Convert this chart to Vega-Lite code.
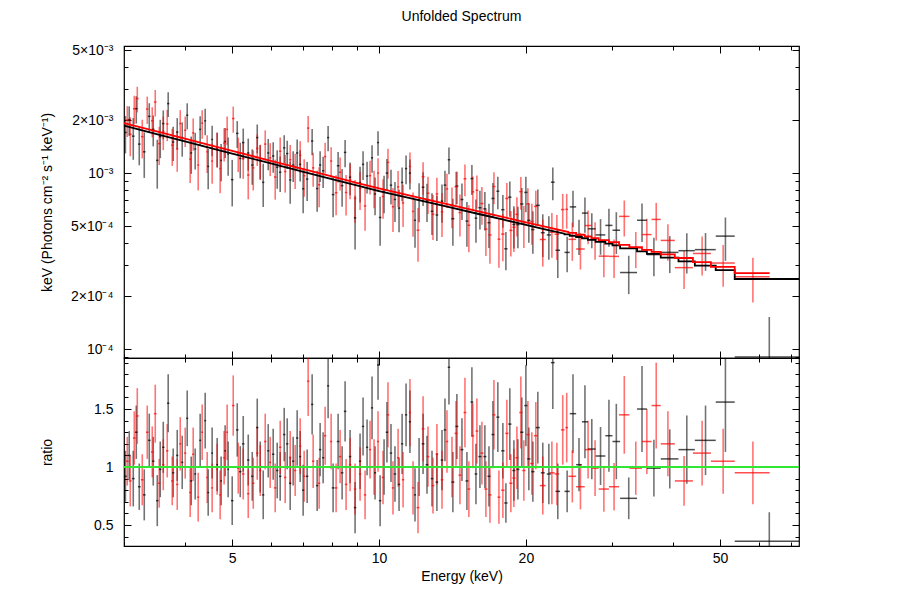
{
"$schema": "https://vega.github.io/schema/vega-lite/v6.json",
"background": "white",
"padding": {"left": 39, "top": 10, "right": 104, "bottom": 14},
"config": {"font": "Liberation Sans", "view": {"stroke": "black", "strokeWidth": 1.2}, "axis": {"domain": false, "grid": false, "minExtent": 0, "tickColor": "black", "tickWidth": 1, "labelColor": "black", "titleColor": "black", "labelFontSize": 14, "titleFontSize": 14, "titleFontWeight": "normal", "labelFont": "Liberation Sans", "titleFont": "Liberation Sans"}},
"title": {"text": "Unfolded Spectrum", "fontSize": 14, "fontWeight": "normal", "font": "Liberation Sans", "offset": 18, "anchor": "middle", "frame": "group", "color": "black"},
"datasets": {
"pts": [
{"s":"A","e":3.02,"w":0.02,"y":1.70e-3,"ye":4.07e-4,"r":0.92,"re":0.22},
{"s":"A","e":3.075,"w":0.02,"y":2.01e-3,"ye":3.83e-4,"r":1.10,"re":0.21},
{"s":"A","e":3.134,"w":0.02,"y":1.62e-3,"ye":4.32e-4,"r":0.90,"re":0.24},
{"s":"A","e":3.179,"w":0.02,"y":2.32e-3,"ye":4.10e-4,"r":1.30,"re":0.23},
{"s":"A","e":3.224,"w":0.02,"y":1.46e-3,"ye":3.53e-4,"r":0.83,"re":0.20},
{"s":"A","e":3.301,"w":0.02,"y":1.32e-3,"ye":3.82e-4,"r":0.76,"re":0.22},
{"s":"A","e":3.380,"w":0.02,"y":2.10e-3,"ye":3.92e-4,"r":1.23,"re":0.23},
{"s":"A","e":3.444,"w":0.02,"y":1.77e-3,"ye":3.53e-4,"r":1.05,"re":0.21},
{"s":"A","e":3.510,"w":0.02,"y":1.18e-3,"ye":3.65e-4,"r":0.71,"re":0.22},
{"s":"A","e":3.560,"w":0.02,"y":1.61e-3,"ye":3.95e-4,"r":0.98,"re":0.24},
{"s":"A","e":3.611,"w":0.02,"y":1.91e-3,"ye":3.58e-4,"r":1.17,"re":0.22},
{"s":"A","e":3.696,"w":0.02,"y":2.48e-3,"ye":4.00e-4,"r":1.55,"re":0.25},
{"s":"A","e":3.784,"w":0.02,"y":1.50e-3,"ye":3.31e-4,"r":0.95,"re":0.21},
{"s":"A","e":3.857,"w":0.02,"y":1.71e-3,"ye":3.42e-4,"r":1.10,"re":0.22},
{"s":"A","e":3.949,"w":0.02,"y":1.59e-3,"ye":3.51e-4,"r":1.04,"re":0.23},
{"s":"A","e":4.043,"w":0.02,"y":2.13e-3,"ye":3.60e-4,"r":1.42,"re":0.24},
{"s":"A","e":4.120,"w":0.02,"y":1.30e-3,"ye":3.11e-4,"r":0.88,"re":0.21},
{"s":"A","e":4.198,"w":0.02,"y":1.37e-3,"ye":3.22e-4,"r":0.94,"re":0.22},
{"s":"A","e":4.298,"w":0.02,"y":1.77e-3,"ye":3.31e-4,"r":1.23,"re":0.23},
{"s":"A","e":4.401,"w":0.02,"y":1.98e-3,"ye":3.39e-4,"r":1.40,"re":0.24},
{"s":"A","e":4.464,"w":0.02,"y":1.09e-3,"ye":2.80e-4,"r":0.78,"re":0.20},
{"s":"A","e":4.548,"w":0.02,"y":1.55e-3,"ye":3.04e-4,"r":1.12,"re":0.22},
{"s":"A","e":4.657,"w":0.02,"y":1.39e-3,"ye":3.12e-4,"r":1.02,"re":0.23},
{"s":"A","e":4.745,"w":0.02,"y":1.18e-3,"ye":2.81e-4,"r":0.88,"re":0.21},
{"s":"A","e":4.836,"w":0.02,"y":1.51e-3,"ye":2.91e-4,"r":1.14,"re":0.22},
{"s":"A","e":4.905,"w":0.02,"y":1.28e-3,"ye":3.14e-4,"r":0.98,"re":0.24},
{"s":"A","e":5.000,"w":0.03,"y":9.17e-4,"ye":2.71e-4,"r":0.71,"re":0.21},
{"s":"A","e":5.120,"w":0.03,"y":1.68e-3,"ye":2.92e-4,"r":1.32,"re":0.23},
{"s":"A","e":5.193,"w":0.03,"y":1.21e-3,"ye":2.77e-4,"r":0.96,"re":0.22},
{"s":"A","e":5.267,"w":0.03,"y":1.49e-3,"ye":2.99e-4,"r":1.20,"re":0.24},
{"s":"A","e":5.393,"w":0.03,"y":1.30e-3,"ye":2.69e-4,"r":1.06,"re":0.22},
{"s":"A","e":5.496,"w":0.03,"y":1.11e-3,"ye":2.53e-4,"r":0.92,"re":0.21},
{"s":"A","e":5.627,"w":0.03,"y":1.59e-3,"ye":2.97e-4,"r":1.34,"re":0.25},
{"s":"A","e":5.707,"w":0.03,"y":1.18e-3,"ye":2.59e-4,"r":1.00,"re":0.22},
{"s":"A","e":5.788,"w":0.03,"y":8.85e-4,"ye":2.44e-4,"r":0.76,"re":0.21},
{"s":"A","e":5.926,"w":0.03,"y":1.30e-3,"ye":2.63e-4,"r":1.14,"re":0.23},
{"s":"A","e":6.067,"w":0.035,"y":1.25e-3,"ye":2.48e-4,"r":1.11,"re":0.22},
{"s":"A","e":6.183,"w":0.035,"y":1.08e-3,"ye":2.66e-4,"r":0.97,"re":0.24},
{"s":"A","e":6.271,"w":0.035,"y":1.01e-3,"ye":2.31e-4,"r":0.92,"re":0.21},
{"s":"A","e":6.391,"w":0.035,"y":1.39e-3,"ye":2.50e-4,"r":1.28,"re":0.23},
{"s":"A","e":6.482,"w":0.035,"y":1.29e-3,"ye":2.36e-4,"r":1.20,"re":0.22},
{"s":"A","e":6.574,"w":0.035,"y":9.14e-4,"ye":2.44e-4,"r":0.86,"re":0.23},
{"s":"A","e":6.667,"w":0.035,"y":1.11e-3,"ye":2.21e-4,"r":1.05,"re":0.21},
{"s":"A","e":6.794,"w":0.035,"y":1.30e-3,"ye":2.49e-4,"r":1.25,"re":0.24},
{"s":"A","e":6.891,"w":0.035,"y":1.12e-3,"ye":2.26e-4,"r":1.09,"re":0.22},
{"s":"A","e":6.989,"w":0.035,"y":8.14e-4,"ye":2.24e-4,"r":0.80,"re":0.22},
{"s":"A","e":7.122,"w":0.04,"y":9.24e-4,"ye":2.31e-4,"r":0.92,"re":0.23},
{"s":"A","e":7.292,"w":0.04,"y":1.52e-3,"ye":2.57e-4,"r":1.54,"re":0.26},
{"s":"A","e":7.466,"w":0.04,"y":8.16e-4,"ye":2.14e-4,"r":0.84,"re":0.22},
{"s":"A","e":7.572,"w":0.04,"y":1.11e-3,"ye":2.21e-4,"r":1.15,"re":0.23},
{"s":"A","e":7.680,"w":0.04,"y":1.03e-3,"ye":2.09e-4,"r":1.08,"re":0.22},
{"s":"A","e":7.863,"w":0.04,"y":1.59e-3,"ye":2.62e-4,"r":1.70,"re":0.28},
{"s":"A","e":8.050,"w":0.05,"y":7.54e-4,"ye":1.93e-4,"r":0.82,"re":0.21},
{"s":"A","e":8.243,"w":0.05,"y":1.10e-3,"ye":2.17e-4,"r":1.22,"re":0.24},
{"s":"A","e":8.400,"w":0.05,"y":8.48e-4,"ye":2.05e-4,"r":0.95,"re":0.23},
{"s":"A","e":8.519,"w":0.05,"y":1.31e-3,"ye":2.30e-4,"r":1.48,"re":0.26},
{"s":"A","e":8.722,"w":0.05,"y":9.47e-4,"ye":2.00e-4,"r":1.09,"re":0.23},
{"s":"A","e":8.930,"w":0.05,"y":5.56e-4,"ye":1.88e-4,"r":0.65,"re":0.22},
{"s":"A","e":9.143,"w":0.05,"y":8.82e-4,"ye":2.02e-4,"r":1.05,"re":0.24},
{"s":"A","e":9.273,"w":0.05,"y":1.12e-3,"ye":2.08e-4,"r":1.35,"re":0.25},
{"s":"A","e":9.450,"w":0.05,"y":9.61e-4,"ye":1.97e-4,"r":1.17,"re":0.24},
{"s":"A","e":9.675,"w":0.05,"y":1.22e-3,"ye":2.18e-4,"r":1.51,"re":0.27},
{"s":"A","e":9.813,"w":0.05,"y":7.60e-4,"ye":1.84e-4,"r":0.95,"re":0.23},
{"s":"A","e":9.952,"w":0.05,"y":1.49e-3,"ye":2.38e-4,"r":1.88,"re":0.30},
{"s":"A","e":10.05,"w":0.06,"y":5.59e-4,"ye":1.73e-4,"r":0.71,"re":0.22},
{"s":"A","e":10.24,"w":0.06,"y":7.78e-4,"ye":1.87e-4,"r":1.00,"re":0.24},
{"s":"A","e":10.38,"w":0.06,"y":1.00e-3,"ye":2.00e-4,"r":1.30,"re":0.26},
{"s":"A","e":10.58,"w":0.06,"y":8.53e-4,"ye":1.91e-4,"r":1.12,"re":0.25},
{"s":"A","e":10.78,"w":0.06,"y":7.08e-4,"ye":1.81e-4,"r":0.94,"re":0.24},
{"s":"A","e":10.99,"w":0.06,"y":6.32e-4,"ye":1.71e-4,"r":0.85,"re":0.23},
{"s":"A","e":11.15,"w":0.06,"y":8.84e-4,"ye":1.92e-4,"r":1.20,"re":0.26},
{"s":"A","e":11.36,"w":0.06,"y":1.06e-3,"ye":1.97e-4,"r":1.45,"re":0.27},
{"s":"A","e":11.57,"w":0.06,"y":9.99e-4,"ye":1.94e-4,"r":1.39,"re":0.27},
{"s":"A","e":11.85,"w":0.06,"y":5.39e-4,"ye":1.63e-4,"r":0.76,"re":0.23},
{"s":"A","e":12.08,"w":0.08,"y":7.00e-4,"ye":1.75e-4,"r":1.00,"re":0.25},
{"s":"A","e":12.31,"w":0.08,"y":8.30e-4,"ye":1.80e-4,"r":1.20,"re":0.26},
{"s":"A","e":12.54,"w":0.08,"y":6.98e-4,"ye":1.71e-4,"r":1.02,"re":0.25},
{"s":"A","e":12.84,"w":0.08,"y":6.06e-4,"ye":1.62e-4,"r":0.90,"re":0.24},
{"s":"A","e":13.14,"w":0.08,"y":5.77e-4,"ye":1.66e-4,"r":0.87,"re":0.25},
{"s":"A","e":13.46,"w":0.08,"y":6.92e-4,"ye":1.70e-4,"r":1.06,"re":0.26},
{"s":"A","e":13.65,"w":0.08,"y":8.54e-4,"ye":1.75e-4,"r":1.32,"re":0.27},
{"s":"A","e":13.91,"w":0.08,"y":1.19e-3,"ye":2.05e-4,"r":1.86,"re":0.32},
{"s":"A","e":14.17,"w":0.1,"y":5.50e-4,"ye":1.64e-4,"r":0.87,"re":0.26},
{"s":"A","e":14.44,"w":0.1,"y":8.42e-4,"ye":1.75e-4,"r":1.35,"re":0.28},
{"s":"A","e":14.79,"w":0.1,"y":7.07e-4,"ye":1.66e-4,"r":1.15,"re":0.27},
{"s":"A","e":15.14,"w":0.1,"y":5.33e-4,"ye":1.52e-4,"r":0.88,"re":0.25},
{"s":"A","e":15.50,"w":0.1,"y":9.30e-4,"ye":1.79e-4,"r":1.56,"re":0.30},
{"s":"A","e":15.80,"w":0.1,"y":5.54e-4,"ye":1.53e-4,"r":0.94,"re":0.26},
{"s":"A","e":16.10,"w":0.12,"y":6.35e-4,"ye":1.57e-4,"r":1.09,"re":0.27},
{"s":"A","e":16.48,"w":0.12,"y":6.26e-4,"ye":1.55e-4,"r":1.09,"re":0.27},
{"s":"A","e":16.80,"w":0.12,"y":5.22e-4,"ye":1.47e-4,"r":0.92,"re":0.26},
{"s":"A","e":17.12,"w":0.12,"y":7.17e-4,"ye":1.62e-4,"r":1.28,"re":0.29},
{"s":"A","e":17.52,"w":0.12,"y":7.88e-4,"ye":1.65e-4,"r":1.43,"re":0.30},
{"s":"A","e":17.94,"w":0.14,"y":6.19e-4,"ye":1.30e-4,"r":1.14,"re":0.24},
{"s":"A","e":18.20,"w":0.14,"y":3.71e-4,"ye":9.1e-5,"r":0.69,"re":0.17},
{"s":"A","e":18.54,"w":0.14,"y":7.29e-4,"ye":1.65e-4,"r":1.37,"re":0.31},
{"s":"A","e":18.90,"w":0.14,"y":5.10e-4,"ye":1.37e-4,"r":0.97,"re":0.26},
{"s":"A","e":19.26,"w":0.14,"y":5.09e-4,"ye":1.35e-4,"r":0.98,"re":0.26},
{"s":"A","e":19.62,"w":0.15,"y":6.67e-4,"ye":1.54e-4,"r":1.30,"re":0.30},
{"s":"A","e":20.00,"w":0.15,"y":7.76e-4,"ye":1.77e-4,"r":1.53,"re":0.35},
{"s":"A","e":20.28,"w":0.15,"y":5.38e-4,"ye":1.36e-4,"r":1.07,"re":0.27},
{"s":"A","e":20.67,"w":0.16,"y":4.77e-4,"ye":1.29e-4,"r":0.96,"re":0.26},
{"s":"A","e":21.16,"w":0.2,"y":6.55e-4,"ye":1.52e-4,"r":1.34,"re":0.31},
{"s":"A","e":21.66,"w":0.2,"y":4.58e-4,"ye":1.25e-4,"r":0.95,"re":0.26},
{"s":"A","e":22.29,"w":0.22,"y":4.45e-4,"ye":1.23e-4,"r":0.94,"re":0.26},
{"s":"A","e":22.71,"w":0.2,"y":8.87e-4,"ye":1.87e-4,"r":1.90,"re":0.40},
{"s":"A","e":23.25,"w":0.25,"y":3.64e-4,"ye":1.11e-4,"r":0.79,"re":0.24},
{"s":"A","e":24.3,"w":0.3,"y":3.54e-4,"ye":8.1e-5,"r":0.79,"re":0.18},
{"s":"A","e":24.98,"w":0.375,"y":6.42e-4,"ye":1.50e-4,"r":1.46,"re":0.34},
{"s":"A","e":25.7,"w":0.35,"y":4.42e-4,"ye":1.00e-4,"r":1.02,"re":0.23},
{"s":"A","e":26.43,"w":0.375,"y":5.92e-4,"ye":1.34e-4,"r":1.39,"re":0.315},
{"s":"A","e":27.3,"w":0.5,"y":4.82e-4,"ye":1.08e-4,"r":1.155,"re":0.26},
{"s":"A","e":28.45,"w":0.65,"y":4.45e-4,"ye":1.02e-4,"r":1.095,"re":0.25},
{"s":"A","e":29.6,"w":0.5,"y":5.04e-4,"ye":1.23e-4,"r":1.27,"re":0.31},
{"s":"A","e":30.65,"w":0.55,"y":4.73e-4,"ye":1.26e-4,"r":1.22,"re":0.325},
{"s":"A","e":32.5,"w":1.3,"y":2.72e-4,"ye":6.7e-5,"r":0.73,"re":0.18},
{"s":"A","e":34.6,"w":0.8,"y":5.39e-4,"ye":1.33e-4,"r":1.50,"re":0.37},
{"s":"A","e":36.6,"w":1.2,"y":3.44e-4,"ye":8.5e-5,"r":0.99,"re":0.245},
{"s":"A","e":39.45,"w":1.65,"y":3.54e-4,"ye":8.4e-5,"r":1.07,"re":0.255},
{"s":"A","e":42.75,"w":1.65,"y":3.62e-4,"ye":9.3e-5,"r":1.15,"re":0.295},
{"s":"A","e":46.7,"w":2.3,"y":3.67e-4,"ye":8.9e-5,"r":1.23,"re":0.30},
{"s":"A","e":51.3,"w":2.3,"y":4.38e-4,"ye":1.21e-4,"r":1.56,"re":0.43},
{"s":"A","e":63.1,"w":9.5,"y":9.0e-5,"ye":6.2e-5,"r":0.36,"re":0.25},
{"s":"B","e":3.047,"w":0.02,"y":2.00e-3,"ye":3.99e-4,"r":1.05,"re":0.21},
{"s":"B","e":3.090,"w":0.02,"y":1.66e-3,"ye":4.14e-4,"r":0.88,"re":0.22},
{"s":"B","e":3.149,"w":0.02,"y":2.32e-3,"ye":4.27e-4,"r":1.25,"re":0.23},
{"s":"B","e":3.194,"w":0.02,"y":2.65e-3,"ye":4.41e-4,"r":1.44,"re":0.24},
{"s":"B","e":3.270,"w":0.02,"y":1.61e-3,"ye":3.98e-4,"r":0.89,"re":0.22},
{"s":"B","e":3.348,"w":0.02,"y":2.31e-3,"ye":4.09e-4,"r":1.30,"re":0.23},
{"s":"B","e":3.428,"w":0.02,"y":1.98e-3,"ye":3.85e-4,"r":1.13,"re":0.22},
{"s":"B","e":3.477,"w":0.02,"y":2.53e-3,"ye":4.33e-4,"r":1.46,"re":0.25},
{"s":"B","e":3.543,"w":0.02,"y":1.47e-3,"ye":3.59e-4,"r":0.86,"re":0.21},
{"s":"B","e":3.611,"w":0.02,"y":1.72e-3,"ye":3.71e-4,"r":1.02,"re":0.22},
{"s":"B","e":3.679,"w":0.02,"y":1.90e-3,"ye":3.82e-4,"r":1.14,"re":0.23},
{"s":"B","e":3.767,"w":0.02,"y":1.44e-3,"ye":3.43e-4,"r":0.88,"re":0.21},
{"s":"B","e":3.857,"w":0.02,"y":1.37e-3,"ye":3.54e-4,"r":0.85,"re":0.22},
{"s":"B","e":3.912,"w":0.02,"y":1.91e-3,"ye":3.66e-4,"r":1.20,"re":0.23},
{"s":"B","e":4.005,"w":0.02,"y":1.75e-3,"ye":3.44e-4,"r":1.12,"re":0.22},
{"s":"B","e":4.100,"w":0.02,"y":1.20e-3,"ye":3.23e-4,"r":0.78,"re":0.21},
{"s":"B","e":4.159,"w":0.02,"y":1.69e-3,"ye":3.51e-4,"r":1.11,"re":0.23},
{"s":"B","e":4.258,"w":0.02,"y":1.11e-3,"ye":3.15e-4,"r":0.74,"re":0.21},
{"s":"B","e":4.339,"w":0.02,"y":1.92e-3,"ye":3.54e-4,"r":1.30,"re":0.24},
{"s":"B","e":4.443,"w":0.02,"y":1.32e-3,"ye":3.20e-4,"r":0.91,"re":0.22},
{"s":"B","e":4.548,"w":0.02,"y":1.17e-3,"ye":3.00e-4,"r":0.82,"re":0.21},
{"s":"B","e":4.657,"w":0.02,"y":1.38e-3,"ye":3.09e-4,"r":0.98,"re":0.22},
{"s":"B","e":4.723,"w":0.02,"y":1.06e-3,"ye":2.92e-4,"r":0.76,"re":0.21},
{"s":"B","e":4.813,"w":0.02,"y":1.48e-3,"ye":3.16e-4,"r":1.08,"re":0.23},
{"s":"B","e":4.882,"w":0.02,"y":1.77e-3,"ye":3.26e-4,"r":1.30,"re":0.24},
{"s":"B","e":5.024,"w":0.03,"y":2.04e-3,"ye":3.46e-4,"r":1.53,"re":0.26},
{"s":"B","e":5.144,"w":0.03,"y":1.30e-3,"ye":2.88e-4,"r":0.99,"re":0.22},
{"s":"B","e":5.267,"w":0.03,"y":1.21e-3,"ye":2.83e-4,"r":0.94,"re":0.22},
{"s":"B","e":5.393,"w":0.03,"y":9.75e-4,"ye":2.66e-4,"r":0.77,"re":0.21},
{"s":"B","e":5.522,"w":0.03,"y":1.07e-3,"ye":2.74e-4,"r":0.86,"re":0.22},
{"s":"B","e":5.627,"w":0.03,"y":1.38e-3,"ye":2.83e-4,"r":1.12,"re":0.23},
{"s":"B","e":5.707,"w":0.03,"y":1.18e-3,"ye":2.68e-4,"r":0.97,"re":0.22},
{"s":"B","e":5.843,"w":0.03,"y":1.46e-3,"ye":2.87e-4,"r":1.22,"re":0.24},
{"s":"B","e":5.982,"w":0.03,"y":1.22e-3,"ye":2.59e-4,"r":1.04,"re":0.22},
{"s":"B","e":6.125,"w":0.035,"y":9.49e-4,"ye":2.43e-4,"r":0.82,"re":0.21},
{"s":"B","e":6.271,"w":0.035,"y":1.33e-3,"ye":2.62e-4,"r":1.17,"re":0.23},
{"s":"B","e":6.421,"w":0.035,"y":1.02e-3,"ye":2.46e-4,"r":0.91,"re":0.22},
{"s":"B","e":6.574,"w":0.035,"y":1.19e-3,"ye":2.53e-4,"r":1.08,"re":0.23},
{"s":"B","e":6.730,"w":0.035,"y":1.05e-3,"ye":2.38e-4,"r":0.97,"re":0.22},
{"s":"B","e":6.891,"w":0.035,"y":1.26e-3,"ye":2.55e-4,"r":1.18,"re":0.24},
{"s":"B","e":7.022,"w":0.04,"y":9.65e-4,"ye":2.31e-4,"r":0.92,"re":0.22},
{"s":"B","e":7.156,"w":0.04,"y":1.80e-3,"ye":3.11e-4,"r":1.74,"re":0.30},
{"s":"B","e":7.327,"w":0.04,"y":1.07e-3,"ye":2.34e-4,"r":1.05,"re":0.23},
{"s":"B","e":7.537,"w":0.04,"y":8.58e-4,"ye":2.20e-4,"r":0.86,"re":0.22},
{"s":"B","e":7.753,"w":0.04,"y":1.24e-3,"ye":2.45e-4,"r":1.27,"re":0.25},
{"s":"B","e":7.976,"w":0.04,"y":1.17e-3,"ye":2.30e-4,"r":1.22,"re":0.24},
{"s":"B","e":8.165,"w":0.05,"y":7.73e-4,"ye":1.98e-4,"r":0.82,"re":0.21},
{"s":"B","e":8.321,"w":0.05,"y":1.01e-3,"ye":2.14e-4,"r":1.09,"re":0.23},
{"s":"B","e":8.559,"w":0.05,"y":7.75e-4,"ye":2.01e-4,"r":0.85,"re":0.22},
{"s":"B","e":8.722,"w":0.05,"y":9.17e-4,"ye":2.07e-4,"r":1.02,"re":0.23},
{"s":"B","e":8.930,"w":0.05,"y":7.17e-4,"ye":1.95e-4,"r":0.81,"re":0.22},
{"s":"B","e":9.143,"w":0.05,"y":8.17e-4,"ye":2.00e-4,"r":0.94,"re":0.23},
{"s":"B","e":9.361,"w":0.05,"y":6.50e-4,"ye":1.80e-4,"r":0.76,"re":0.21},
{"s":"B","e":9.584,"w":0.05,"y":9.66e-4,"ye":2.10e-4,"r":1.15,"re":0.25},
{"s":"B","e":9.767,"w":0.05,"y":8.30e-4,"ye":1.99e-4,"r":1.00,"re":0.24},
{"s":"B","e":9.952,"w":0.05,"y":1.00e-3,"ye":2.13e-4,"r":1.22,"re":0.26},
{"s":"B","e":10.19,"w":0.06,"y":7.35e-4,"ye":1.86e-4,"r":0.91,"re":0.23},
{"s":"B","e":10.43,"w":0.06,"y":1.15e-3,"ye":2.23e-4,"r":1.45,"re":0.28},
{"s":"B","e":10.68,"w":0.06,"y":6.43e-4,"ye":1.80e-4,"r":0.82,"re":0.23},
{"s":"B","e":10.94,"w":0.06,"y":8.34e-4,"ye":1.93e-4,"r":1.08,"re":0.25},
{"s":"B","e":11.20,"w":0.06,"y":6.76e-4,"ye":1.82e-4,"r":0.89,"re":0.24},
{"s":"B","e":11.57,"w":0.06,"y":1.09e-3,"ye":2.16e-4,"r":1.47,"re":0.29},
{"s":"B","e":11.74,"w":0.06,"y":6.05e-4,"ye":1.70e-4,"r":0.82,"re":0.23},
{"s":"B","e":12.02,"w":0.08,"y":4.73e-4,"ye":1.60e-4,"r":0.65,"re":0.22},
{"s":"B","e":12.31,"w":0.08,"y":9.52e-4,"ye":2.00e-4,"r":1.33,"re":0.28},
{"s":"B","e":12.60,"w":0.08,"y":7.68e-4,"ye":1.83e-4,"r":1.09,"re":0.26},
{"s":"B","e":12.90,"w":0.08,"y":5.83e-4,"ye":1.67e-4,"r":0.84,"re":0.24},
{"s":"B","e":13.14,"w":0.08,"y":7.61e-4,"ye":1.78e-4,"r":1.11,"re":0.26},
{"s":"B","e":13.46,"w":0.08,"y":6.02e-4,"ye":1.69e-4,"r":0.89,"re":0.25},
{"s":"B","e":13.78,"w":0.08,"y":8.12e-4,"ye":1.80e-4,"r":1.22,"re":0.27},
{"s":"B","e":14.11,"w":0.1,"y":6.56e-4,"ye":1.71e-4,"r":1.00,"re":0.26},
{"s":"B","e":14.38,"w":0.1,"y":8.36e-4,"ye":1.81e-4,"r":1.29,"re":0.28},
{"s":"B","e":14.65,"w":0.1,"y":5.96e-4,"ye":1.60e-4,"r":0.93,"re":0.25},
{"s":"B","e":15.00,"w":0.1,"y":9.28e-4,"ye":1.89e-4,"r":1.47,"re":0.30},
{"s":"B","e":15.28,"w":0.1,"y":5.05e-4,"ye":1.50e-4,"r":0.81,"re":0.24},
{"s":"B","e":15.57,"w":0.1,"y":7.82e-4,"ye":1.72e-4,"r":1.27,"re":0.28},
{"s":"B","e":15.87,"w":0.1,"y":7.98e-4,"ye":1.71e-4,"r":1.31,"re":0.28},
{"s":"B","e":16.25,"w":0.12,"y":6.71e-4,"ye":1.62e-4,"r":1.12,"re":0.27},
{"s":"B","e":16.56,"w":0.12,"y":4.80e-4,"ye":1.42e-4,"r":0.81,"re":0.24},
{"s":"B","e":16.88,"w":0.12,"y":4.45e-4,"ye":1.40e-4,"r":0.76,"re":0.24},
{"s":"B","e":17.20,"w":0.12,"y":8.38e-4,"ye":1.73e-4,"r":1.45,"re":0.30},
{"s":"B","e":17.61,"w":0.12,"y":4.21e-4,"ye":1.31e-4,"r":0.74,"re":0.23},
{"s":"B","e":17.94,"w":0.14,"y":4.50e-4,"ye":1.35e-4,"r":0.80,"re":0.24},
{"s":"B","e":18.28,"w":0.14,"y":7.17e-4,"ye":1.61e-4,"r":1.29,"re":0.29},
{"s":"B","e":18.63,"w":0.14,"y":4.72e-4,"ye":1.37e-4,"r":0.86,"re":0.25},
{"s":"B","e":18.90,"w":0.14,"y":4.92e-4,"ye":1.36e-4,"r":0.905,"re":0.25},
{"s":"B","e":19.17,"w":0.14,"y":5.82e-4,"ye":1.46e-4,"r":1.08,"re":0.27},
{"s":"B","e":19.53,"w":0.15,"y":7.84e-4,"ye":1.65e-4,"r":1.47,"re":0.31},
{"s":"B","e":19.81,"w":0.15,"y":5.12e-4,"ye":1.37e-4,"r":0.97,"re":0.26},
{"s":"B","e":20.19,"w":0.15,"y":6.68e-4,"ye":1.51e-4,"r":1.28,"re":0.29},
{"s":"B","e":20.57,"w":0.16,"y":5.30e-4,"ye":1.39e-4,"r":1.03,"re":0.27},
{"s":"B","e":20.96,"w":0.18,"y":6.46e-4,"ye":1.48e-4,"r":1.27,"re":0.29},
{"s":"B","e":21.66,"w":0.3,"y":4.19e-4,"ye":1.25e-4,"r":0.84,"re":0.25},
{"s":"B","e":22.61,"w":0.3,"y":4.61e-4,"ye":1.31e-4,"r":0.95,"re":0.27},
{"s":"B","e":23.15,"w":0.25,"y":4.49e-4,"ye":1.29e-4,"r":0.94,"re":0.27},
{"s":"B","e":23.80,"w":0.2,"y":6.20e-4,"ye":1.41e-4,"r":1.32,"re":0.30},
{"s":"B","e":24.25,"w":0.15,"y":6.22e-4,"ye":1.39e-4,"r":1.34,"re":0.30},
{"s":"B","e":24.9,"w":0.45,"y":4.20e-4,"ye":1.03e-4,"r":0.92,"re":0.225},
{"s":"B","e":25.875,"w":0.525,"y":3.70e-4,"ye":8.7e-5,"r":0.83,"re":0.195},
{"s":"B","e":26.825,"w":0.425,"y":5.03e-4,"ye":1.09e-4,"r":1.15,"re":0.25},
{"s":"B","e":27.725,"w":0.475,"y":4.23e-4,"ye":1.02e-4,"r":0.99,"re":0.24},
{"s":"B","e":28.9,"w":0.7,"y":3.37e-4,"ye":8.1e-5,"r":0.81,"re":0.195},
{"s":"B","e":30.325,"w":0.725,"y":3.36e-4,"ye":8.3e-5,"r":0.83,"re":0.205},
{"s":"B","e":31.825,"w":0.775,"y":5.67e-4,"ye":1.31e-4,"r":1.45,"re":0.335},
{"s":"B","e":33.6,"w":1.0,"y":3.75e-4,"ye":8.7e-5,"r":0.99,"re":0.23},
{"s":"B","e":35.4,"w":0.8,"y":4.47e-4,"ye":1.02e-4,"r":1.22,"re":0.28},
{"s":"B","e":37.0,"w":0.8,"y":5.45e-4,"ye":1.32e-4,"r":1.53,"re":0.37},
{"s":"B","e":39.1,"w":1.3,"y":4.14e-4,"ye":9.7e-5,"r":1.20,"re":0.28},
{"s":"B","e":42.2,"w":1.8,"y":2.90e-4,"ye":7.1e-5,"r":0.88,"re":0.215},
{"s":"B","e":45.95,"w":1.95,"y":3.49e-4,"ye":8.7e-5,"r":1.12,"re":0.28},
{"s":"B","e":50.75,"w":2.85,"y":3.08e-4,"ye":8.2e-5,"r":1.05,"re":0.28},
{"s":"B","e":58.4,"w":4.8,"y":2.57e-4,"ye":7.3e-5,"r":0.95,"re":0.27}
],
"mod": [
{"s":"A","e":3.0,"m":1.857e-3},{"s":"A","e":3.5,"m":1.664e-3},{"s":"A","e":4,"m":1.513e-3},{"s":"A","e":4.5,"m":1.391e-3},{"s":"A","e":5,"m":1.291e-3},{"s":"A","e":6,"m":1.134e-3},{"s":"A","e":7,"m":1.016e-3},{"s":"A","e":8,"m":9.24e-4},{"s":"A","e":9,"m":8.50e-4},{"s":"A","e":10,"m":7.90e-4},{"s":"A","e":12,"m":7.03e-4},{"s":"A","e":14,"m":6.37e-4},{"s":"A","e":16,"m":5.85e-4},{"s":"A","e":18,"m":5.43e-4},{"s":"A","e":20,"m":5.07e-4},{"s":"A","e":22,"m":4.775e-4},{"s":"A","e":24,"m":4.52e-4},
{"s":"A","e":24.0,"m":4.48e-4},{"s":"A","e":24.6,"m":4.48e-4},
{"s":"A","e":24.6,"m":4.40e-4},{"s":"A","e":25.35,"m":4.40e-4},
{"s":"A","e":25.35,"m":4.33e-4},{"s":"A","e":26.05,"m":4.33e-4},
{"s":"A","e":26.05,"m":4.26e-4},{"s":"A","e":26.8,"m":4.26e-4},
{"s":"A","e":26.8,"m":4.17e-4},{"s":"A","e":27.8,"m":4.17e-4},
{"s":"A","e":27.8,"m":4.06e-4},{"s":"A","e":29.1,"m":4.06e-4},
{"s":"A","e":29.1,"m":3.97e-4},{"s":"A","e":30.1,"m":3.97e-4},
{"s":"A","e":30.1,"m":3.88e-4},{"s":"A","e":31.2,"m":3.88e-4},
{"s":"A","e":31.2,"m":3.73e-4},{"s":"A","e":33.8,"m":3.73e-4},
{"s":"A","e":33.8,"m":3.59e-4},{"s":"A","e":35.4,"m":3.59e-4},
{"s":"A","e":35.4,"m":3.47e-4},{"s":"A","e":37.8,"m":3.47e-4},
{"s":"A","e":37.8,"m":3.31e-4},{"s":"A","e":41.1,"m":3.31e-4},
{"s":"A","e":41.1,"m":3.15e-4},{"s":"A","e":44.4,"m":3.15e-4},
{"s":"A","e":44.4,"m":2.98e-4},{"s":"A","e":49.0,"m":2.98e-4},
{"s":"A","e":49.0,"m":2.81e-4},{"s":"A","e":53.6,"m":2.81e-4},
{"s":"A","e":53.6,"m":2.50e-4},{"s":"A","e":72.6,"m":2.50e-4},
{"s":"B","e":3.0,"m":1.922e-3},{"s":"B","e":3.5,"m":1.722e-3},{"s":"B","e":4,"m":1.566e-3},{"s":"B","e":4.5,"m":1.440e-3},{"s":"B","e":5,"m":1.336e-3},{"s":"B","e":6,"m":1.174e-3},{"s":"B","e":7,"m":1.052e-3},{"s":"B","e":8,"m":9.56e-4},{"s":"B","e":9,"m":8.80e-4},{"s":"B","e":10,"m":8.18e-4},{"s":"B","e":12,"m":7.28e-4},{"s":"B","e":14,"m":6.59e-4},{"s":"B","e":16,"m":6.05e-4},{"s":"B","e":18,"m":5.62e-4},{"s":"B","e":20,"m":5.25e-4},{"s":"B","e":22,"m":4.94e-4},{"s":"B","e":24.45,"m":4.62e-4},
{"s":"B","e":24.45,"m":4.57e-4},{"s":"B","e":25.35,"m":4.57e-4},
{"s":"B","e":25.35,"m":4.46e-4},{"s":"B","e":26.4,"m":4.46e-4},
{"s":"B","e":26.4,"m":4.37e-4},{"s":"B","e":27.25,"m":4.37e-4},
{"s":"B","e":27.25,"m":4.27e-4},{"s":"B","e":28.2,"m":4.27e-4},
{"s":"B","e":28.2,"m":4.16e-4},{"s":"B","e":29.6,"m":4.16e-4},
{"s":"B","e":29.6,"m":4.05e-4},{"s":"B","e":31.05,"m":4.05e-4},
{"s":"B","e":31.05,"m":3.91e-4},{"s":"B","e":32.6,"m":3.91e-4},
{"s":"B","e":32.6,"m":3.79e-4},{"s":"B","e":34.6,"m":3.79e-4},
{"s":"B","e":34.6,"m":3.66e-4},{"s":"B","e":36.2,"m":3.66e-4},
{"s":"B","e":36.2,"m":3.56e-4},{"s":"B","e":37.8,"m":3.56e-4},
{"s":"B","e":37.8,"m":3.45e-4},{"s":"B","e":40.4,"m":3.45e-4},
{"s":"B","e":40.4,"m":3.29e-4},{"s":"B","e":44.0,"m":3.29e-4},
{"s":"B","e":44.0,"m":3.12e-4},{"s":"B","e":47.9,"m":3.12e-4},
{"s":"B","e":47.9,"m":2.93e-4},{"s":"B","e":53.6,"m":2.93e-4},
{"s":"B","e":53.6,"m":2.70e-4},{"s":"B","e":63.2,"m":2.70e-4}
]
},
"spacing": 0,
"bounds": "flush",
"vconcat": [
{
"width": 675, "height": 312,
"resolve": {"axis": {"x": "independent", "y": "independent"}},
"layer": [
{"data": {"name": "pts"}, "transform": [{"filter": "datum.s === 'A'"}],
 "mark": {"type": "errorbar", "thickness": 1.6, "opacity": 0.55},
 "encoding": {
  "x": {"field": "e", "type": "quantitative", "scale": {"type": "log", "domain": [3, 72.6], "nice": false, "clamp": true}, "axis": {"orient": "bottom", "values": [5, 10, 20, 50], "labels": false, "tickSize": -7, "title": null}},
  "y": {"field": "y", "type": "quantitative", "scale": {"type": "log", "domain": [8.89e-5, 5.27e-3], "nice": false, "clamp": true}, "axis": {"orient": "left", "values": [1e-4, 2e-4, 5e-4, 1e-3, 2e-3, 5e-3], "tickSize": -7, "labelPadding": 18, "labelExpr": "datum.value > 0.004 ? '5×10⁻³' : datum.value > 0.0015 ? '2×10⁻³' : datum.value > 0.0008 ? '10⁻³' : datum.value > 0.0004 ? '5×10⁻⁴' : datum.value > 0.00015 ? '2×10⁻⁴' : '10⁻⁴'", "title": "keV (Photons cm⁻² s⁻¹ keV⁻¹)", "titleX": -70}},
  "yError": {"field": "ye"},
  "color": {"field": "s", "type": "nominal", "scale": {"domain": ["A", "B"], "range": ["#000000", "#ff0000"]}, "legend": null}
 }},
{"data": {"name": "pts"}, "transform": [{"filter": "datum.s === 'B'"}],
 "mark": {"type": "errorbar", "thickness": 1.6, "opacity": 0.55},
 "encoding": {
  "x": {"field": "e", "type": "quantitative", "scale": {"type": "log", "domain": [3, 72.6], "nice": false, "clamp": true}, "axis": {"orient": "bottom", "values": [3, 4, 6, 7, 8, 9, 30, 40, 60, 70], "labels": false, "tickSize": -4, "title": null}},
  "y": {"field": "y", "type": "quantitative", "scale": {"type": "log", "domain": [8.89e-5, 5.27e-3], "nice": false, "clamp": true}, "axis": {"orient": "left", "values": [9e-5, 3e-4, 4e-4, 6e-4, 7e-4, 8e-4, 9e-4, 3e-3, 4e-3], "labels": false, "tickSize": -4, "title": null}},
  "yError": {"field": "ye"},
  "color": {"field": "s", "type": "nominal", "scale": {"domain": ["A", "B"], "range": ["#000000", "#ff0000"]}, "legend": null}
 }},
{"data": {"name": "pts"}, "transform": [{"filter": "datum.s === 'A'"}],
 "mark": {"type": "errorbar", "thickness": 1.5, "opacity": 0.7},
 "encoding": {
  "x": {"field": "e", "type": "quantitative", "scale": {"type": "log", "domain": [3, 72.6], "nice": false, "clamp": true}, "axis": {"orient": "top", "values": [5, 10, 20, 50], "labels": false, "tickSize": -7, "title": null}},
  "xError": {"field": "w"},
  "y": {"field": "y", "type": "quantitative", "scale": {"type": "log", "domain": [8.89e-5, 5.27e-3], "nice": false, "clamp": true}, "axis": {"orient": "right", "values": [1e-4, 2e-4, 5e-4, 1e-3, 2e-3, 5e-3], "labels": false, "tickSize": -7, "title": null}},
  "color": {"field": "s", "type": "nominal", "scale": {"domain": ["A", "B"], "range": ["#000000", "#ff0000"]}, "legend": null}
 }},
{"data": {"name": "pts"}, "transform": [{"filter": "datum.s === 'B'"}],
 "mark": {"type": "errorbar", "thickness": 1.5, "opacity": 0.7},
 "encoding": {
  "x": {"field": "e", "type": "quantitative", "scale": {"type": "log", "domain": [3, 72.6], "nice": false, "clamp": true}, "axis": {"orient": "top", "values": [3, 4, 6, 7, 8, 9, 30, 40, 60, 70], "labels": false, "tickSize": -4, "title": null}},
  "xError": {"field": "w"},
  "y": {"field": "y", "type": "quantitative", "scale": {"type": "log", "domain": [8.89e-5, 5.27e-3], "nice": false, "clamp": true}, "axis": {"orient": "right", "values": [9e-5, 3e-4, 4e-4, 6e-4, 7e-4, 8e-4, 9e-4, 3e-3, 4e-3], "labels": false, "tickSize": -4, "title": null}},
  "color": {"field": "s", "type": "nominal", "scale": {"domain": ["A", "B"], "range": ["#000000", "#ff0000"]}, "legend": null}
 }},
{"data": {"name": "mod"},
 "mark": {"type": "line", "strokeWidth": 1.8},
 "encoding": {
  "x": {"field": "e", "type": "quantitative", "scale": {"type": "log", "domain": [3, 72.6], "nice": false, "clamp": true}, "axis": null},
  "y": {"field": "m", "type": "quantitative", "scale": {"type": "log", "domain": [8.89e-5, 5.27e-3], "nice": false, "clamp": true}, "axis": null},
  "color": {"field": "s", "type": "nominal", "scale": {"domain": ["A", "B"], "range": ["#000000", "#ff0000"]}, "legend": null},
  "order": {"value": null}
 }}
]
},
{
"width": 675, "height": 188,
"resolve": {"axis": {"x": "independent", "y": "independent"}},
"layer": [
{"data": {"name": "pts"}, "transform": [{"filter": "datum.s === 'A'"}],
 "mark": {"type": "errorbar", "thickness": 1.6, "opacity": 0.55},
 "encoding": {
  "x": {"field": "e", "type": "quantitative", "scale": {"type": "log", "domain": [3, 72.6], "nice": false, "clamp": true}, "axis": {"orient": "bottom", "values": [5, 10, 20, 50], "format": "d", "tickSize": -7, "labelPadding": 12, "title": "Energy (keV)", "titlePadding": 4}},
  "y": {"field": "r", "type": "quantitative", "scale": {"type": "linear", "domain": [0.319, 1.94], "nice": false, "zero": false, "clamp": true}, "axis": {"orient": "left", "values": [0.5, 1, 1.5], "tickSize": -7, "labelPadding": 18, "labelExpr": "datum.value === 1 ? '1' : datum.value === 0.5 ? '0.5' : '1.5'", "title": "ratio", "titleX": -70}},
  "yError": {"field": "re"},
  "color": {"field": "s", "type": "nominal", "scale": {"domain": ["A", "B"], "range": ["#000000", "#ff0000"]}, "legend": null}
 }},
{"data": {"name": "pts"}, "transform": [{"filter": "datum.s === 'B'"}],
 "mark": {"type": "errorbar", "thickness": 1.6, "opacity": 0.55},
 "encoding": {
  "x": {"field": "e", "type": "quantitative", "scale": {"type": "log", "domain": [3, 72.6], "nice": false, "clamp": true}, "axis": {"orient": "bottom", "values": [3, 4, 6, 7, 8, 9, 30, 40, 60, 70], "labels": false, "tickSize": -4, "title": null}},
  "y": {"field": "r", "type": "quantitative", "scale": {"type": "linear", "domain": [0.319, 1.94], "nice": false, "zero": false, "clamp": true}, "axis": {"orient": "left", "values": [0.4, 0.6, 0.7, 0.8, 0.9, 1.1, 1.2, 1.3, 1.4, 1.6, 1.7, 1.8, 1.9], "labels": false, "tickSize": -4, "title": null}},
  "yError": {"field": "re"},
  "color": {"field": "s", "type": "nominal", "scale": {"domain": ["A", "B"], "range": ["#000000", "#ff0000"]}, "legend": null}
 }},
{"data": {"name": "pts"}, "transform": [{"filter": "datum.s === 'A'"}],
 "mark": {"type": "errorbar", "thickness": 1.5, "opacity": 0.7},
 "encoding": {
  "x": {"field": "e", "type": "quantitative", "scale": {"type": "log", "domain": [3, 72.6], "nice": false, "clamp": true}, "axis": {"orient": "top", "values": [5, 10, 20, 50], "labels": false, "tickSize": -7, "title": null}},
  "xError": {"field": "w"},
  "y": {"field": "r", "type": "quantitative", "scale": {"type": "linear", "domain": [0.319, 1.94], "nice": false, "zero": false, "clamp": true}, "axis": {"orient": "right", "values": [0.5, 1, 1.5], "labels": false, "tickSize": -7, "title": null}},
  "color": {"field": "s", "type": "nominal", "scale": {"domain": ["A", "B"], "range": ["#000000", "#ff0000"]}, "legend": null}
 }},
{"data": {"name": "pts"}, "transform": [{"filter": "datum.s === 'B'"}],
 "mark": {"type": "errorbar", "thickness": 1.5, "opacity": 0.7},
 "encoding": {
  "x": {"field": "e", "type": "quantitative", "scale": {"type": "log", "domain": [3, 72.6], "nice": false, "clamp": true}, "axis": {"orient": "top", "values": [3, 4, 6, 7, 8, 9, 30, 40, 60, 70], "labels": false, "tickSize": -4, "title": null}},
  "xError": {"field": "w"},
  "y": {"field": "r", "type": "quantitative", "scale": {"type": "linear", "domain": [0.319, 1.94], "nice": false, "zero": false, "clamp": true}, "axis": {"orient": "right", "values": [0.4, 0.6, 0.7, 0.8, 0.9, 1.1, 1.2, 1.3, 1.4, 1.6, 1.7, 1.8, 1.9], "labels": false, "tickSize": -4, "title": null}},
  "color": {"field": "s", "type": "nominal", "scale": {"domain": ["A", "B"], "range": ["#000000", "#ff0000"]}, "legend": null}
 }},
{"data": {"values": [{"r": 1}]},
 "mark": {"type": "rule", "color": "#33e633", "strokeWidth": 2},
 "encoding": {
  "y": {"field": "r", "type": "quantitative", "scale": {"type": "linear", "domain": [0.319, 1.94], "nice": false, "zero": false, "clamp": true}, "axis": null}
 }}
]
}
]
}
